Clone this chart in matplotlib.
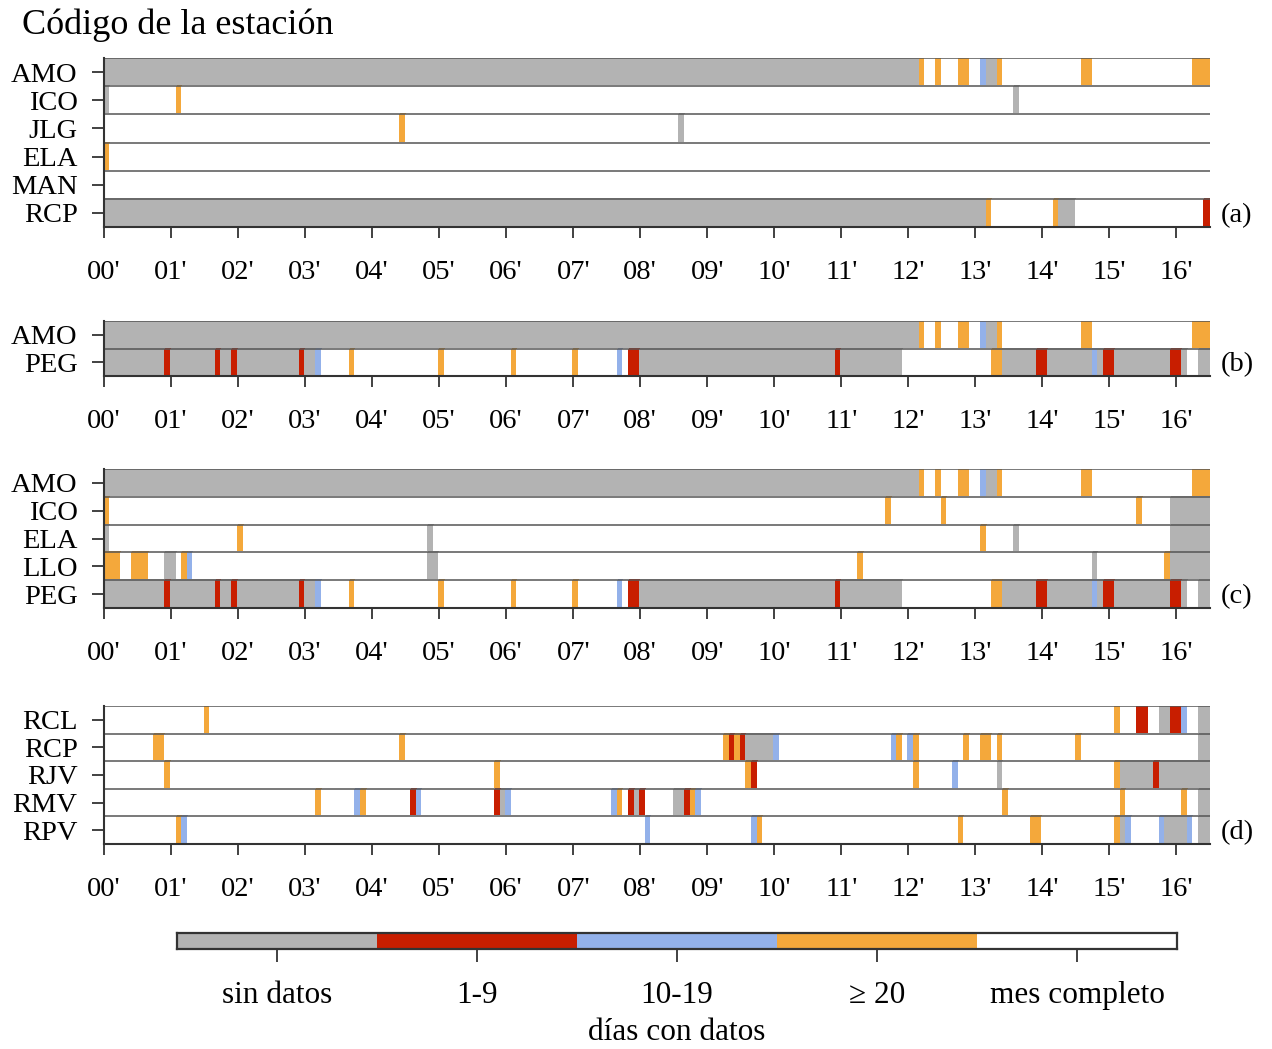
import numpy as np
import matplotlib.pyplot as plt
from matplotlib.colors import ListedColormap, BoundaryNorm

plt.rcParams['font.family'] = ['Liberation Serif', 'DejaVu Serif']
plt.rcParams['mathtext.fontset'] = 'stix'

# categorias: 0 sin datos, 1 = 1-9, 2 = 10-19, 3 = >=20, 4 = mes completo
colores = ['#b3b3b3', '#c81e00', '#93b1ea', '#f4a83b', '#ffffff']
categorias = ['sin datos', '1-9', '10-19', '\u2265 20', 'mes completo']
anios = ["%02d'" % a for a in range(17)]
n_meses = 198  # ene 2000 - jun 2016

# tramos (categoria, meses) por estacion
AMO = [(0, 146), (3, 1), (4, 2), (3, 1), (4, 3), (3, 2), (4, 2), (2, 1), (0, 2),
       (3, 1), (4, 14), (3, 2), (4, 18), (3, 3)]
ICO_a = [(0, 1), (4, 12), (3, 1), (4, 149), (0, 1), (4, 34)]
JLG = [(4, 53), (3, 1), (4, 49), (0, 1), (4, 94)]
ELA_a = [(3, 1), (4, 197)]
MAN = [(4, 198)]
RCP_a = [(0, 158), (3, 1), (4, 11), (3, 1), (0, 3), (4, 23), (1, 1)]
PEG = [(0, 11), (1, 1), (0, 8), (1, 1), (0, 2), (1, 1), (0, 11), (1, 1), (0, 2),
       (2, 1), (4, 5), (3, 1), (4, 15), (3, 1), (4, 12), (3, 1), (4, 10), (3, 1),
       (4, 7), (2, 1), (4, 1), (1, 2), (0, 35), (1, 1), (0, 11), (4, 16), (3, 2),
       (0, 6), (1, 2), (0, 8), (2, 1), (0, 1), (1, 2), (0, 10), (1, 2), (0, 1),
       (4, 2), (0, 2)]
ICO_c = [(3, 1), (4, 139), (3, 1), (4, 9), (3, 1), (4, 34), (3, 1), (4, 5), (0, 7)]
ELA_c = [(0, 1), (4, 23), (3, 1), (4, 33), (0, 1), (4, 98), (3, 1), (4, 5), (0, 1),
         (4, 27), (0, 7)]
LLO = [(3, 3), (4, 2), (3, 3), (4, 3), (0, 2), (4, 1), (3, 1), (2, 1), (4, 42),
       (0, 2), (4, 75), (3, 1), (4, 41), (0, 1), (4, 12), (3, 1), (0, 7)]
RCL = [(4, 18), (3, 1), (4, 162), (3, 1), (4, 3), (1, 2), (4, 2), (0, 2), (1, 2),
       (2, 1), (4, 2), (0, 2)]
RCP_d = [(4, 9), (3, 2), (4, 42), (3, 1), (4, 57), (3, 1), (1, 1), (3, 1), (1, 1),
         (0, 5), (2, 1), (4, 20), (2, 1), (3, 1), (4, 1), (2, 1), (3, 1), (4, 8),
         (3, 1), (4, 2), (3, 2), (4, 1), (3, 1), (4, 13), (3, 1), (4, 21), (0, 2)]
RJV = [(4, 11), (3, 1), (4, 58), (3, 1), (4, 44), (3, 1), (1, 1), (4, 28), (3, 1),
       (4, 6), (2, 1), (4, 7), (0, 1), (4, 20), (3, 1), (0, 6), (1, 1), (0, 9)]
RMV = [(4, 38), (3, 1), (4, 6), (2, 1), (3, 1), (4, 8), (1, 1), (2, 1), (4, 13),
       (1, 1), (0, 1), (2, 1), (4, 18), (2, 1), (3, 1), (4, 1), (1, 1), (0, 1),
       (1, 1), (4, 5), (0, 2), (1, 1), (3, 1), (2, 1), (4, 54), (3, 1), (4, 20),
       (3, 1), (4, 10), (3, 1), (4, 2), (0, 2)]
RPV = [(4, 13), (3, 1), (2, 1), (4, 82), (2, 1), (4, 18), (2, 1), (3, 1), (4, 35),
       (3, 1), (4, 12), (3, 2), (4, 13), (3, 1), (0, 1), (2, 1), (4, 5), (2, 1),
       (0, 4), (2, 1), (4, 1), (0, 2)]

paneles = [
    ('(a)', ['AMO', 'ICO', 'JLG', 'ELA', 'MAN', 'RCP'], [AMO, ICO_a, JLG, ELA_a, MAN, RCP_a]),
    ('(b)', ['AMO', 'PEG'], [AMO, PEG]),
    ('(c)', ['AMO', 'ICO', 'ELA', 'LLO', 'PEG'], [AMO, ICO_c, ELA_c, LLO, PEG]),
    ('(d)', ['RCL', 'RCP', 'RJV', 'RMV', 'RPV'], [RCL, RCP_d, RJV, RMV, RPV]),
]
# (arriba, abajo) en pixeles
posiciones = [(58, 227), (321, 376), (469, 608), (706, 844)]

W, H = 1272, 1049
cmap = ListedColormap(colores)
norm = BoundaryNorm(np.arange(-0.5, 5.5, 1), cmap.N)


def expandir(tramos):
    cats = [c for c, n in tramos]
    lens = [n for c, n in tramos]
    return np.repeat(cats, lens)


fig = plt.figure(figsize=(W / 100, H / 100), dpi=100)
xe = np.arange(n_meses + 1) / 12.0

for (letra, nombres, series), (top, bot) in zip(paneles, posiciones):
    ax = fig.add_axes([104 / W, 1 - bot / H, (1210 - 104) / W, (bot - top) / H])
    Z = np.array([expandir(s) for s in series])
    ye = np.arange(len(nombres) + 1)
    ax.pcolormesh(xe, ye, Z, cmap=cmap, norm=norm, edgecolors='face', linewidth=0.3)
    ax.hlines(np.arange(len(nombres)), 0, xe[-1], color='#555555', lw=1.1)
    ax.set_xlim(0, xe[-1])
    ax.set_ylim(len(nombres), 0)
    ax.set_yticks(np.arange(len(nombres)) + 0.5)
    ax.set_yticklabels(nombres)
    ax.set_xticks(np.arange(17))
    ax.set_xticklabels(anios)
    for s in ['top', 'right']:
        ax.spines[s].set_visible(False)
    for s in ['left', 'bottom']:
        ax.spines[s].set_color('#333333')
        ax.spines[s].set_linewidth(1.5)
    ax.tick_params(axis='y', length=9, width=1.3, color='#333333', pad=10, labelsize=20.5)
    ax.tick_params(axis='x', length=8, width=1.3, color='#333333', pad=16, labelsize=20.5)
    ax.annotate(letra, xy=(1.01, len(nombres) - 0.42), xycoords=('axes fraction', 'data'),
                ha='left', va='center', fontsize=20.5)

fig.text(22 / W, 1 - 25 / H, 'Código de la estación', ha='left', va='center', fontsize=26)

# barra de colores
cax = fig.add_axes([177 / W, 1 - 949 / H, 1000 / W, 16 / H])
cax.pcolormesh(np.arange(6), [0, 1], np.arange(5)[None, :], cmap=cmap, norm=norm)
cax.set_xlim(0, 5)
cax.set_yticks([])
cax.set_xticks(np.arange(5) + 0.5)
cax.set_xticklabels(categorias)
cax.tick_params(axis='x', length=9, width=1.3, color='#333333', pad=14, labelsize=22.5)
for s in cax.spines.values():
    s.set_color('#333333')
    s.set_linewidth(1.6)
cax.set_xlabel('días con datos', fontsize=22.5, labelpad=6)

fig.savefig('out.png', dpi=100)
